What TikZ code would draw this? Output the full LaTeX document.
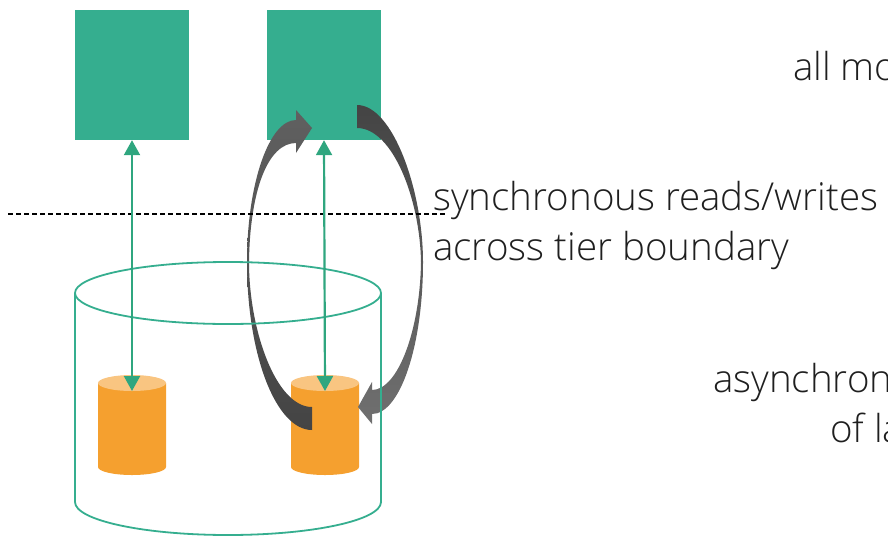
\documentclass[tikz,border=0pt]{standalone}
\usepackage{fontspec}
\setmainfont{Open Sans Light}
\usetikzlibrary{arrows.meta}
\definecolor{tiergreen}{HTML}{35AE8F}
\definecolor{linkgreen}{HTML}{2FA67F}
\definecolor{dborange}{HTML}{F5A02F}
\definecolor{dbtop}{HTML}{F9C581}
\definecolor{flowdark}{HTML}{444444}
\definecolor{flowlight}{HTML}{606060}
\tikzset{
  tierbox/.style={fill=tiergreen, draw=none, inner sep=0pt,
    minimum width=114pt, minimum height=130pt},
  syncarrow/.style={draw=linkgreen, line width=2.2pt,
    {Triangle[length=15pt,width=16pt]}-{Triangle[length=15pt,width=16pt]}},
  storeoutline/.style={draw=tiergreen, line width=1.8pt},
  boundary/.style={draw=black, line width=1.2pt, dash pattern=on 5pt off 3pt},
  caption/.style={anchor=base west, inner sep=0pt, text=black!88,
    font=\fontsize{38.5}{46}\selectfont}
}
\begin{document}
\begin{tikzpicture}[x=1pt, y=-1pt]
\useasboundingbox (0,0) rectangle (888,536);
\clip (0,0) rectangle (888,536);

% application tier
\node[tierbox] (app1) at (132,75) {};
\node[tierbox] (app2) at (324,75) {};

% local data stores
\coordinate (db1) at (132,383);
\coordinate (db2) at (325,383);
\foreach \c in {db1,db2} {
  \fill[dborange] ([xshift=-34pt]\c) -- ++(0,84)
    arc[start angle=180, end angle=0, x radius=34, y radius=8] -- ([xshift=34pt]\c) -- cycle;
  \fill[dbtop] (\c) ellipse [x radius=34, y radius=8];
}

% asynchronous write-back loop
\shade[top color=flowlight, bottom color=flowdark]
  (312,430) .. controls (276,430) and (247,355) .. (247,262)
  .. controls (247,184) and (269,120) .. (296,120)
  -- (296,110) -- (312,128) -- (296,153) -- (296,143)
  .. controls (268,143) and (250,190) .. (249,262)
  .. controls (249,330) and (276,407) .. (312,407) -- cycle;
\shade[top color=flowdark, bottom color=flowlight!90!white]
  (357,105) .. controls (393,105) and (423,191) .. (423,262)
  .. controls (423,346) and (400,414) .. (372,414)
  -- (372,424) -- (358,407) -- (372,382) -- (372,390)
  .. controls (398,390) and (420,330) .. (421,262)
  .. controls (420,200) and (393,128) .. (357,128) -- cycle;

% storage tier
\coordinate (store) at (228,293);
\draw[storeoutline] (store) ellipse [x radius=153, y radius=31];
\draw[storeoutline] (75,293) -- (75,502)
  arc[start angle=180, end angle=0, x radius=153, y radius=33] -- (381,293);

% tier boundary
\coordinate (bl) at (8,214);
\coordinate (br) at (445,214);
\draw[boundary] (bl) -- (br);

% synchronous access
\draw[syncarrow] (app1.south) -- ([yshift=-8pt]db1);
\draw[syncarrow] (app2.south) -- ([yshift=-8pt]db2);

% labels
\node[caption] (t1) at (793,80) {all mo};
\node[caption] (t2) at (433,210) {synchronous reads/writes};
\node[caption] (t3) at (433,260) {across tier boundary};
\node[caption] (t4) at (713,392) {asynchron};
\node[caption] (t5) at (830,442) {of la};
\end{tikzpicture}
\end{document}
